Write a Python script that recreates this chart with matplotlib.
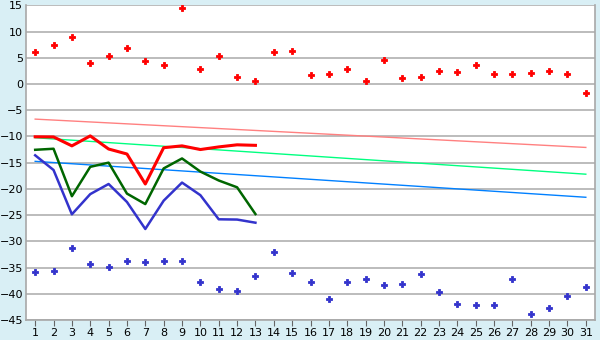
import matplotlib
matplotlib.use("Agg")
import matplotlib.pyplot as plt
import numpy as np

days = list(range(1, 32))

red_points = [6.15, 7.37, 8.9, 3.94, 5.28, 6.8, 4.3, 3.56, 14.4, 2.8,
              5.28, 1.27, 0.5, 6.04, 6.23, 1.65, 1.84, 2.8, 0.5, 4.5,
              1.08, 1.27, 2.4, 2.2, 3.56, 1.84, 1.84, 2.0, 2.4, 1.84, -1.78]
blue_points = [-35.9, -35.7, -31.3, -34.4, -34.8, -33.8, -34.0, -33.8, -33.8, -37.8,
               -39.1, -39.5, -36.7, -32.1, -36.1, -37.8, -41.05, -37.8, -37.2, -38.4,
               -38.2, -36.3, -39.7, -42.0, -42.2, -42.2, -37.2, -43.9, -42.8, -40.5, -38.8]

line_days = list(range(1, 14))
red_line = [-10.07, -10.1, -11.8, -9.9, -12.4, -13.35, -19.07, -12.15, -11.8, -12.5, -12.0, -11.6, -11.7]
green_line = [-12.55, -12.35, -21.4, -15.8, -15.0, -20.9, -22.9, -16.1, -14.2, -16.7, -18.4, -19.7, -24.8]
blue_line = [-13.6, -16.4, -24.85, -21.0, -19.07, -22.5, -27.65, -22.25, -18.8, -21.2, -25.8, -25.85, -26.45]

trend_days = [1, 31]
pink_trend = [-6.7, -12.1]
lightgreen_trend = [-10.25, -17.2]
lightblue_trend = [-14.75, -21.6]

y_ticks = list(range(-45, 16, 5))

fig = plt.figure(figsize=(6, 3.4), dpi=100, facecolor="#D9EFF5")
ax = fig.add_axes([26/600, 1-320/340, (595-26)/600, (320-5.3)/340])
ax.set_facecolor("white")

ax.set_xlim(0.5, 31.5)
ax.set_ylim(-45, 15)
ax.set_yticks(y_ticks)
ax.set_xticks(days)
ax.yaxis.grid(True, color="#B0B0B0", lw=1.2)
ax.set_axisbelow(True)

ax.plot(trend_days, pink_trend, color="#FF8080", lw=1)
ax.plot(trend_days, lightgreen_trend, color="#00FF80", lw=1)
ax.plot(trend_days, lightblue_trend, color="#0080FF", lw=1)

ax.plot(line_days, blue_line, color="#3333CC", lw=1.8)
ax.plot(line_days, green_line, color="#006600", lw=1.8)
ax.plot(line_days, red_line, color="#FF0000", lw=2.2)

ax.plot(days, red_points, ls="none", marker="P", ms=5, color="#FF0000", mew=0.6)
ax.plot(days, blue_points, ls="none", marker="P", ms=5, color="#3333CC", mew=0.6)

for s in ["left", "right", "top", "bottom"]:
    ax.spines[s].set_color("#A8A8A8")
    ax.spines[s].set_linewidth(1.2)
ax.spines["top"].set_visible(False)

ax.tick_params(axis="x", length=4, color="#666666", labelsize=8, pad=2)
ax.tick_params(axis="y", length=0, labelsize=8, pad=2)

fig.savefig("out.png", dpi=100, facecolor=fig.get_facecolor())
